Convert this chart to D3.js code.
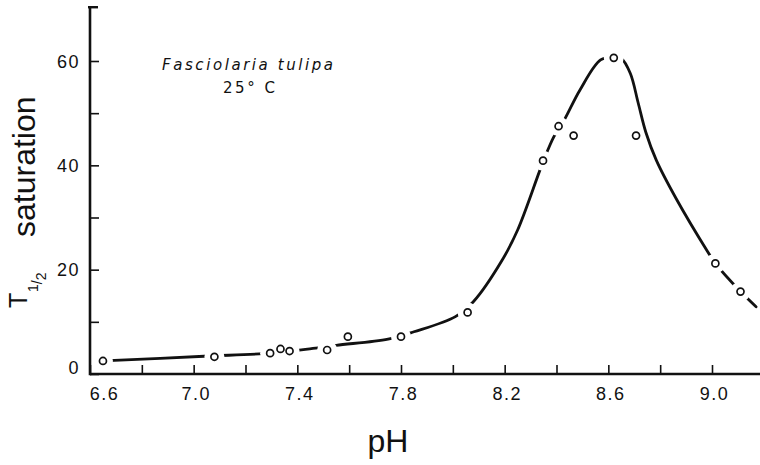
<!DOCTYPE html>
<html><head><meta charset="utf-8">
<script src="https://cdn.jsdelivr.net/npm/d3@7"></script>
<style>body{margin:0;background:#fff}svg{display:block}</style>
</head><body><svg id="c" width="760" height="465"></svg>
<script>
// ---- data ----
const xTicks = [6.6,6.8,7.0,7.2,7.4,7.6,7.8,8.0,8.2,8.4,8.6,8.8,9.0];
const xTickLabels = ["6.6","7.0","7.4","7.8","8.2","8.6","9.0"];
const yTicks = [0,10,20,30,40,50,60];
const yTickLabels = ["0","20","40","60"];
// measured points (pH, T1/2 saturation)
const pointsPH = [6.65, 7.08, 7.295, 7.335, 7.37, 7.515, 7.595, 7.80, 8.057, 8.348, 8.408, 8.466, 8.621, 8.707, 9.013, 9.11];
const pointsT  = [2.5, 3.3, 4.0, 4.8, 4.4, 4.6, 7.15, 7.15, 11.8, 40.9, 47.5, 45.7, 60.6, 45.7, 21.2, 15.8];
// hand-drawn fitted curve
const curvePH = [6.65, 7.04, 7.30, 7.46, 7.55, 7.75, 7.85, 8.01, 8.08, 8.19, 8.25, 8.35, 8.39, 8.43, 8.49, 8.57, 8.62, 8.65, 8.685, 8.715, 8.745, 8.785, 8.862, 8.984, 9.013, 9.11, 9.17];
const curveT  = [2.5, 3.4, 4.0, 4.9, 5.5, 6.7, 8.1, 11.0, 13.9, 21.8, 27.6, 40.9, 45.5, 48.7, 54.4, 60.2, 60.8, 60.5, 57.6, 52.0, 46.3, 41.0, 33.6, 23.4, 21.2, 15.8, 12.9];
const xTitle = "pH";
const yTitleMain = "T";
const yTitleSub = ["1", "/", "2"];
const yTitleRest = "saturation";
const note1 = "Fasciolaria tulipa";
const note2 = "25° C";

// ---- chart ----
const svg = d3.select("#c");
const ink = "#111";
const x = d3.scaleLinear().domain([6.6, 9.0]).range([90, 712]);
const y = d3.scaleLinear().domain([0, 60]).range([374, 61]);
const yTop = 70.5;

const fmtX = d => { const s = d.toFixed(1); return xTickLabels.includes(s) ? s : ""; };
const fmtY = d => { const s = String(d); return yTickLabels.includes(s) ? s : ""; };

// x axis
const gx = svg.append("g").attr("transform", `translate(0,${y(0)})`)
  .call(d3.axisBottom(x).tickValues(xTicks).tickSizeInner(-9).tickSizeOuter(0).tickFormat(fmtX));
gx.select(".domain").remove();
gx.selectAll(".tick line").attr("stroke", ink).attr("stroke-width", 1.6);
gx.selectAll(".tick text").attr("fill", ink).attr("font-family", "Liberation Sans, Arial, sans-serif")
  .attr("font-size", 18).attr("letter-spacing", 1.5).attr("y", 26).attr("dy", 0)
  .attr("dx", d => d.toFixed(1) === "6.6" ? 14 : 2);

// y axis
const gy = svg.append("g").attr("transform", `translate(${x(6.6)},0)`)
  .call(d3.axisLeft(y).tickValues(yTicks).tickSizeInner(-9).tickSizeOuter(0).tickPadding(10).tickFormat(fmtY));
gy.select(".domain").remove();
gy.selectAll(".tick line").attr("stroke", ink).attr("stroke-width", 1.6);
gy.selectAll(".tick text").attr("fill", ink).attr("font-family", "Liberation Sans, Arial, sans-serif")
  .attr("font-size", 18).attr("letter-spacing", 1.5)
  .attr("dy", d => d === 0 ? "-0.05em" : "0.35em");

// axis lines
svg.append("line").attr("x1", x(6.6)).attr("x2", 760).attr("y1", y(0)).attr("y2", y(0))
  .attr("stroke", ink).attr("stroke-width", 2.6);
svg.append("line").attr("x1", x(6.6)).attr("x2", x(6.6)).attr("y1", y(0) + 1.3).attr("y2", y(yTop))
  .attr("stroke", ink).attr("stroke-width", 2.6);
svg.append("line").attr("x1", x(6.6) - 2).attr("x2", x(6.6) + 8).attr("y1", y(yTop) + 1).attr("y2", y(yTop) + 1)
  .attr("stroke", ink).attr("stroke-width", 2.4);

// curve
const curveData = curvePH.map((p, i) => [p, curveT[i]]);
const line = d3.line().x(d => x(d[0])).y(d => y(d[1])).curve(d3.curveCatmullRom.alpha(0.5));
const path = svg.append("path").datum(curveData).attr("d", line)
  .attr("fill", "none").attr("stroke", ink).attr("stroke-width", 2.8).attr("stroke-linecap", "round");

// gaps in the curve around points lying on it
const pts = pointsPH.map((p, i) => [p, pointsT[i]]);
const node = path.node();
const L = node.getTotalLength();
const samples = [];
for (let s = 0; s <= L; s += 1) samples.push(node.getPointAtLength(s));
pts.forEach(d => {
  const px = x(d[0]), py = y(d[1]);
  let m = Infinity;
  samples.forEach(q => { const dd = Math.hypot(q.x - px, q.y - py); if (dd < m) m = dd; });
  if (m < 6) {
    svg.append("circle").attr("cx", px).attr("cy", py).attr("r", 10).attr("fill", "#fff");
  }
});

// markers
svg.append("g").selectAll("circle").data(pts).join("circle")
  .attr("cx", d => x(d[0])).attr("cy", d => y(d[1])).attr("r", 3.5)
  .attr("fill", "#fff").attr("stroke", ink).attr("stroke-width", 1.7);

// titles
svg.append("text").attr("x", 388).attr("y", 452).attr("text-anchor", "middle")
  .attr("font-family", "Liberation Sans, Arial, sans-serif").attr("font-size", 32).attr("fill", ink).text(xTitle);

const yt = svg.append("g").attr("font-family", "Liberation Sans, Arial, sans-serif").attr("fill", ink);
yt.append("text").attr("transform", "translate(27,308) rotate(-90)").attr("font-size", 25).text(yTitleMain);
const sub = yt.append("text").attr("transform", "translate(42,292) rotate(-90)").attr("font-size", 14);
sub.append("tspan").attr("dy", -4).text(yTitleSub[0]);
sub.append("tspan").attr("dy", 4).text(yTitleSub[1]);
sub.append("tspan").attr("dy", 4).text(yTitleSub[2]);
yt.append("text").attr("transform", "translate(35,237) rotate(-90)").attr("font-size", 32).text(yTitleRest);

// annotation
svg.append("text").attr("x", 162).attr("y", 69.5).attr("font-family", "DejaVu Sans, Verdana, sans-serif")
  .attr("font-style", "italic").attr("font-size", 15).attr("fill", ink)
  .attr("textLength", 171).attr("lengthAdjust", "spacing").text(note1);
svg.append("text").attr("x", 223).attr("y", 92.5).attr("font-family", "DejaVu Sans, Verdana, sans-serif")
  .attr("font-size", 15).attr("fill", ink)
  .attr("textLength", 52).attr("lengthAdjust", "spacing").text(note2);
</script></body></html>
